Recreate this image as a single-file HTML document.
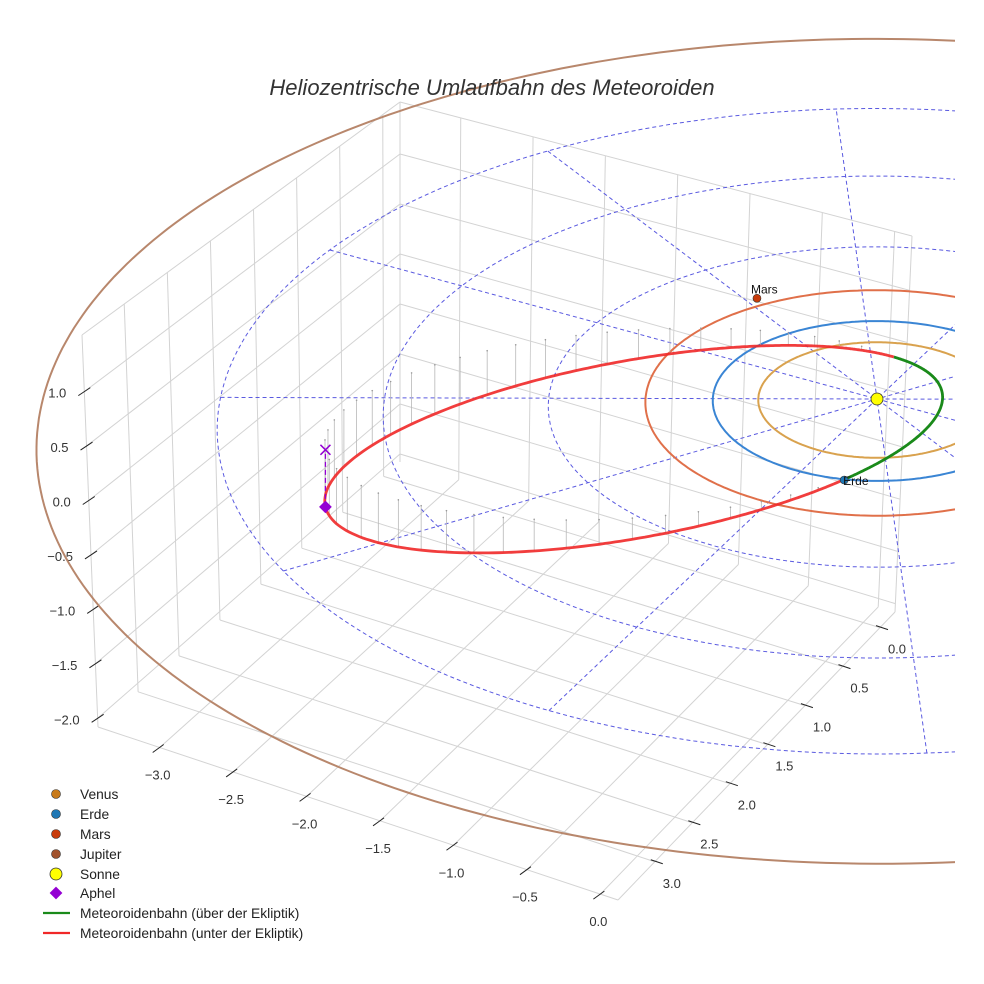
<!DOCTYPE html>
<html><head><meta charset="utf-8"><style>
html,body{margin:0;padding:0;background:#fff;}
svg{display:block;font-family:"Liberation Sans",sans-serif;}
</style></head><body>
<svg id="chart" width="984" height="984" viewBox="0 0 984 984" xmlns="http://www.w3.org/2000/svg">
<defs><clipPath id="clipArea"><rect x="0" y="30" width="955" height="954"/></clipPath></defs>
<g id="grid"></g>
<g id="ticks"></g>
<g id="plot" clip-path="url(#clipArea)"></g>
<text x="492" y="95" text-anchor="middle" font-size="22" font-style="italic" fill="#333">Heliozentrische Umlaufbahn des Meteoroiden</text>
<g id="legend" font-size="13.8" fill="#222">
  <g><circle cx="56" cy="794" r="4.5" fill="#c87a1a" stroke="#333" stroke-width="0.6"/><text x="80" y="799">Venus</text></g>
  <g><circle cx="56" cy="814" r="4.5" fill="#1f77b4" stroke="#333" stroke-width="0.6"/><text x="80" y="819">Erde</text></g>
  <g><circle cx="56" cy="834" r="4.5" fill="#c83c0c" stroke="#333" stroke-width="0.6"/><text x="80" y="839">Mars</text></g>
  <g><circle cx="56" cy="854" r="4.5" fill="#a0522d" stroke="#333" stroke-width="0.6"/><text x="80" y="859">Jupiter</text></g>
  <g><circle cx="56" cy="874" r="6" fill="#ffff00" stroke="#333" stroke-width="0.8"/><text x="80" y="879">Sonne</text></g>
  <g><rect x="51.5" y="888.5" width="9" height="9" fill="#9400d3" transform="rotate(45 56 893)"/><text x="80" y="898">Aphel</text></g>
  <g><line x1="43" y1="913" x2="70" y2="913" stroke="#1a8a1a" stroke-width="2.2"/><text x="80" y="918">Meteoroidenbahn (über der Ekliptik)</text></g>
  <g><line x1="43" y1="933" x2="70" y2="933" stroke="#f02828" stroke-width="2.2"/><text x="80" y="938">Meteoroidenbahn (unter der Ekliptik)</text></g>
</g>
</svg>
<script>
// ---- data ----
const xTicks = [-3.0, -2.5, -2.0, -1.5, -1.0, -0.5, 0.0];
const yTicks = [0.0, 0.5, 1.0, 1.5, 2.0, 2.5, 3.0];
const zTicks = [-2.0, -1.5, -1.0, -0.5, 0.0, 0.5, 1.0];
const xRange = [-3.42, 0.12];
const yRange = [-0.2, 3.49];
const zRange = [-2.08, 1.52];
const planetNames = ["Venus", "Erde", "Mars", "Jupiter"];
const planetRadii = [0.723, 1.0, 1.41, 5.08];
const planetColors = ["#d9a24e", "#3a85d4", "#e0704a", "#b8876c"];
const erdePos = [0.393, 0.929];
const marsPos = [-1.353, -0.653];
const ringRadii = [1, 2, 3, 4];
const spokeAngles = [23, 52, 83, 115, 146, 175];
const perihelionDist = 0.393;
const eccentricity = 0.791;
const perihelionLon = -45;
const inclination = 9.6;
const ascNodeAnomaly = -68;

// ---- projection ----
const NS = "http://www.w3.org/2000/svg";
function P(x, y, z) {
  const ux = 136 * x - 92 * y, uy = 45 * x + 66 * y;
  const f = 1 / (1 - uy / 3200);
  return [877 + ux * f, 399 + (uy - 108 * z) * f];
}
const F0 = [98, 727], F1 = [618, 900], F2 = [895, 612], B = [400, 462];
const LT = [82, 335], BT = [400, 102], RT = [912, 236];
function bil(p00, p10, p01, p11, u, v) {
  return [0, 1].map(k => (1 - u) * (1 - v) * p00[k] + u * (1 - v) * p10[k] + (1 - u) * v * p01[k] + u * v * p11[k]);
}
const fx = x => (x - xRange[0]) / (xRange[1] - xRange[0]);
const fy = y => (y - yRange[0]) / (yRange[1] - yRange[0]);
const fz = z => (z - zRange[0]) / (zRange[1] - zRange[0]);
function mk(tag, attrs, parent) {
  const el = document.createElementNS(NS, tag);
  for (const k in attrs) el.setAttribute(k, attrs[k]);
  parent.appendChild(el);
  return el;
}
function ptsStr(arr) { return arr.map(p => p[0].toFixed(1) + "," + p[1].toFixed(1)).join(" "); }
const fmt = v => (v < 0 ? "\u2212" : "") + Math.abs(v).toFixed(1);

// ---- grid ----
const grid = document.getElementById("grid");
function gline(a, b, name) {
  const l = mk("line", {x1: a[0], y1: a[1], x2: b[0], y2: b[1], stroke: "#d3d3d3", "stroke-width": 1}, grid);
  
  
}
xTicks.forEach(x => { const u = fx(x); gline(bil(F0, F1, B, F2, u, 0), bil(F0, F1, B, F2, u, 1), "floor-grid-x"); });
yTicks.forEach(y => { const v = 1 - fy(y); gline(bil(F0, F1, B, F2, 0, v), bil(F0, F1, B, F2, 1, v), "floor-grid-y"); });
yTicks.forEach(y => { const u = 1 - fy(y); gline(bil(F0, B, LT, BT, u, 0), bil(F0, B, LT, BT, u, 1), "left-pane-grid-y"); });
zTicks.forEach(z => { const v = fz(z); gline(bil(F0, B, LT, BT, 0, v), bil(F0, B, LT, BT, 1, v), "left-pane-grid-z"); });
xTicks.forEach(x => { const u = fx(x); gline(bil(B, F2, BT, RT, u, 0), bil(B, F2, BT, RT, u, 1), "back-pane-grid-x"); });
zTicks.forEach(z => { const v = fz(z); gline(bil(B, F2, BT, RT, 0, v), bil(B, F2, BT, RT, 1, v), "back-pane-grid-z"); });
[[F0, LT], [LT, BT], [BT, RT], [F0, F1], [F1, F2], [B, BT], [RT, F2]].forEach(e => gline(e[0], e[1], "pane-edge"));

// ---- ticks ----
const ticks = document.getElementById("ticks");
const lerp = (a, b, t) => [a[0] + (b[0] - a[0]) * t, a[1] + (b[1] - a[1]) * t];
function tick(p, d1, d2, lx, ly, anchor, label, name) {
  const l = mk("line", {x1: p[0] + d1[0], y1: p[1] + d1[1], x2: p[0] + d2[0], y2: p[1] + d2[1], stroke: "#222", "stroke-width": 1}, ticks);
  
  
  const t = mk("text", {x: p[0] + lx, y: p[1] + ly, "text-anchor": anchor, "font-size": 13, fill: "#333"}, ticks);
  t.textContent = label;
  
  
}
zTicks.forEach(z => tick(lerp(F0, LT, fz(z)), [-6, 4], [6, -4], -18, 6, "end", fmt(z), "z-axis"));
xTicks.forEach(x => tick(lerp(F0, F1, fx(x)), [-7, 5], [4, -3], -2, 32, "middle", fmt(x), "x-axis"));
yTicks.forEach(y => tick(lerp(F1, F2, 1 - fy(y)), [-4, -2], [8, 2], 17, 26, "middle", fmt(y), "y-axis"));

// ---- plot ----
const plot = document.getElementById("plot");
function circlePts(r, n) {
  const a = [];
  for (let i = 0; i <= n; i++) { const t = 2 * Math.PI * i / n; a.push(P(r * Math.cos(t), r * Math.sin(t), 0)); }
  return a;
}
ringRadii.forEach(r => {
  const pl = mk("polyline", {points: ptsStr(circlePts(r, 240)), fill: "none", stroke: "#5a5ae0", "stroke-width": 1, "stroke-dasharray": "4 3"}, plot);
  
  
});
const rMax = ringRadii[ringRadii.length - 1];
spokeAngles.forEach(a => {
  const t = a * Math.PI / 180;
  const p1 = P(rMax * Math.cos(t), rMax * Math.sin(t), 0), p2 = P(-rMax * Math.cos(t), -rMax * Math.sin(t), 0);
  const l = mk("line", {x1: p1[0], y1: p1[1], x2: p2[0], y2: p2[1], stroke: "#5a5ae0", "stroke-width": 1, "stroke-dasharray": "4 3"}, plot);
  
  
});
planetRadii.forEach((r, i) => {
  const pl = mk("polyline", {points: ptsStr(circlePts(r, 360)), fill: "none", stroke: planetColors[i], "stroke-width": 2}, plot);
  
  
});
const semiMajor = perihelionDist / (1 - eccentricity);
function orbitPos(nuDeg) {
  const nu = nuDeg * Math.PI / 180;
  const r = semiMajor * (1 - eccentricity * eccentricity) / (1 + eccentricity * Math.cos(nu));
  const lon = nu + perihelionLon * Math.PI / 180;
  const z = r * Math.sin(inclination * Math.PI / 180) * Math.sin(nu - ascNodeAnomaly * Math.PI / 180);
  return [r * Math.cos(lon), r * Math.sin(lon), z];
}
for (let E = 0; E < 360; E += 6) {
  const Er = E * Math.PI / 180;
  const nu = 2 * Math.atan2(Math.sqrt(1 + eccentricity) * Math.sin(Er / 2), Math.sqrt(1 - eccentricity) * Math.cos(Er / 2)) * 180 / Math.PI;
  const p = orbitPos(nu);
  if (p[2] >= -0.02) continue;
  const a = P(p[0], p[1], p[2]), b = P(p[0], p[1], 0);
  const l = mk("line", {x1: a[0], y1: a[1], x2: b[0], y2: b[1], stroke: "#b8b8b8", "stroke-width": 0.8}, plot);
  
  
  const c = mk("circle", {cx: b[0], cy: b[1], r: 0.8, fill: "#999"}, plot);
  
  
}
const above = [], below = [];
for (let nu = ascNodeAnomaly; nu <= ascNodeAnomaly + 180; nu += 0.5) above.push(P(...orbitPos(nu)));
for (let nu = ascNodeAnomaly + 180; nu <= ascNodeAnomaly + 360; nu += 0.5) below.push(P(...orbitPos(nu)));
const redL = mk("polyline", {points: ptsStr(below), fill: "none", stroke: "#f02828", "stroke-width": 2.8, "stroke-opacity": 0.9}, plot);


const greenL = mk("polyline", {points: ptsStr(above), fill: "none", stroke: "#1a8a1a", "stroke-width": 2.8}, plot);



const aph = orbitPos(180);
const aS = P(aph[0], aph[1], aph[2]), aE = P(aph[0], aph[1], 0);
const aLine = mk("line", {x1: aS[0], y1: aS[1], x2: aE[0], y2: aE[1], stroke: "#9400d3", "stroke-width": 1.3, "stroke-dasharray": "5 3"}, plot);


const aX = mk("path", {d: `M${aE[0] - 5},${aE[1] - 5}L${aE[0] + 5},${aE[1] + 5}M${aE[0] - 5},${aE[1] + 5}L${aE[0] + 5},${aE[1] - 5}`, stroke: "#9400d3", "stroke-width": 1.5}, plot);


const aD = mk("rect", {x: aS[0] - 4.5, y: aS[1] - 4.5, width: 9, height: 9, fill: "#9400d3", transform: `rotate(45 ${aS[0]} ${aS[1]})`}, plot);



const eP = P(erdePos[0], erdePos[1], 0);
const eC = mk("circle", {cx: eP[0], cy: eP[1], r: 4, fill: "#1f77b4", stroke: "#333", "stroke-width": 0.6}, plot);


const eT = mk("text", {x: eP[0] - 1, y: eP[1] + 5, "font-size": 12, fill: "#111"}, plot);
eT.textContent = "Erde";


const mP = P(marsPos[0], marsPos[1], 0);
const mC = mk("circle", {cx: mP[0], cy: mP[1], r: 4, fill: "#c83c0c", stroke: "#333", "stroke-width": 0.6}, plot);


const mT = mk("text", {x: mP[0] - 6, y: mP[1] - 5, "font-size": 12, fill: "#111"}, plot);
mT.textContent = "Mars";


const sP = P(0, 0, 0);
const sC = mk("circle", {cx: sP[0], cy: sP[1], r: 6, fill: "#ffff00", stroke: "#333", "stroke-width": 0.8}, plot);


</script>
</body></html>
